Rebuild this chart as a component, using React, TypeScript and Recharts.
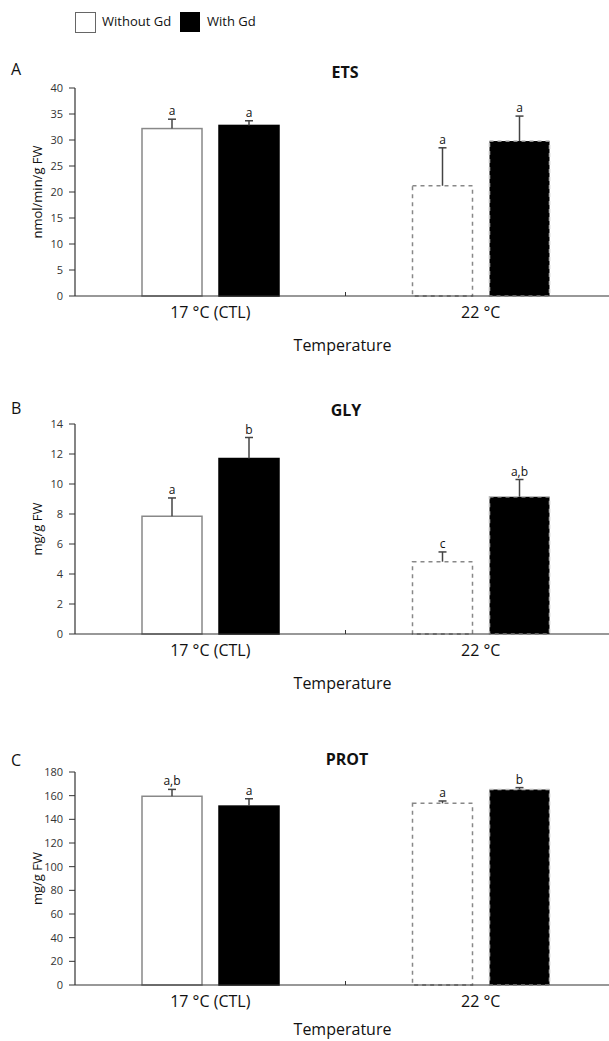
import React from "react";
import { BarChart, Bar, XAxis, YAxis, LabelList } from "recharts";

const categories = ["17 °C (CTL)", "22 °C"];

const etsWithout = [32.2, 21.2];
const etsWith = [32.8, 29.8];
const etsErrWithout = [1.8, 7.3];
const etsErrWith = [0.9, 4.8];
const etsLetWithout = ["a", "a"];
const etsLetWith = ["a", "a"];

const glyWithout = [7.85, 4.82];
const glyWith = [11.7, 9.15];
const glyErrWithout = [1.22, 0.65];
const glyErrWith = [1.4, 1.15];
const glyLetWithout = ["a", "c"];
const glyLetWith = ["b", "a,b"];

const protWithout = [159.5, 153.5];
const protWith = [151.2, 165.2];
const protErrWithout = [5.8, 2.0];
const protErrWith = [6.2, 1.6];
const protLetWithout = ["a,b", "a"];
const protLetWith = ["a", "b"];

const etsTicks = [0, 5, 10, 15, 20, 25, 30, 35, 40];
const glyTicks = [0, 2, 4, 6, 8, 10, 12, 14];
const protTicks = [0, 20, 40, 60, 80, 100, 120, 140, 160, 180];

const FONT = "'Open Sans', 'Noto Sans', sans-serif";
const AXIS = "#333";
const ERR = "#444";

function buildRows(wo, wi, ewo, ewi, lwo, lwi) {
  return categories.map((c, i) => ({
    cat: c,
    without: wo[i],
    withGd: wi[i],
    errWithout: ewo[i],
    errWith: ewi[i],
    letWithout: lwo[i],
    letWith: lwi[i],
  }));
}

const CatTick = (props: any) => {
  const { x, y, payload, index } = props;
  const half = payload && payload.offset ? payload.offset : 135.25;
  return (
    <g>
      <text x={x} y={y + 16} textAnchor="middle" dominantBaseline="central" fontSize={16} fill="#111" fontFamily={FONT}>
        {payload.value}
      </text>
      {index > 0 && <line x1={x - half} x2={x - half} y1={y} y2={y - 4} stroke={AXIS} strokeWidth={1} />}
    </g>
  );
};

// bar rectangle plus an upper-only error whisker, scaled from the bar's own pixel height
function barShape(valKey, errKey, dark) {
  return (p: any) => {
    const { x, y, width, height, payload, index } = p;
    const val = payload[valKey];
    const err = payload[errKey];
    const pxPerUnit = val ? height / val : 0;
    const top = y - err * pxPerUnit;
    const cx = x + width / 2;
    const dashed = index === 1;
    const stroke = dark ? (dashed ? "#bbb" : "#000") : "#888";
    return (
      <g>
        <rect x={x} y={y} width={width} height={height} fill={dark ? "#000" : "#fff"} stroke={stroke} strokeWidth={1.5} strokeDasharray={dashed ? "4 4" : undefined} />
        <line x1={cx} x2={cx} y1={y} y2={top} stroke={ERR} strokeWidth={1.5} />
        <line x1={cx - 4} x2={cx + 4} y1={top} y2={top} stroke={ERR} strokeWidth={1.5} />
      </g>
    );
  };
}

function letterContent(rows, key, errKey, valKey) {
  return (p: any) => {
    const i = p.index;
    const row = rows[i];
    if (!row) return null;
    const vb = p.viewBox || p;
    const pxPerUnit = vb.height / row[valKey];
    const top = vb.y - row[errKey] * pxPerUnit;
    return (
      <text x={vb.x + vb.width / 2} y={top - 4} textAnchor="middle" fontSize={12} fill="#111" fontFamily={FONT}>
        {row[key]}
      </text>
    );
  };
}

function Panel({ top, height, marginTop, axisHeight, rows, domain, ticks, yLabel, tempOffset }) {
  return (
    <div style={{ position: "absolute", left: 0, top, width: 616, height }}>
      <BarChart width={616} height={height} data={rows} margin={{ top: marginTop, right: 0, bottom: 0, left: 0 }} barSize={60} barGap={17}>
        <XAxis
          dataKey="cat"
          height={axisHeight}
          tick={<CatTick />}
          tickLine={false}
          tickSize={0}
          tickMargin={0}
          axisLine={{ stroke: AXIS, strokeWidth: 1.2 }}
          interval={0}
          label={{
            content: (p: any) => {
              const vb = p.viewBox;
              return (
                <text x={vb.x + vb.width / 2 - 3} y={vb.y + tempOffset} textAnchor="middle" dominantBaseline="central" fontSize={16} fill="#111" fontFamily={FONT}>
                  Temperature
                </text>
              );
            },
          }}
        />
        <YAxis
          width={75}
          domain={domain}
          ticks={ticks}
          interval={0}
          tickSize={6}
          tickMargin={6}
          tick={{ fontSize: 11, fill: "#333", fontFamily: FONT }}
          axisLine={{ stroke: AXIS, strokeWidth: 1.2 }}
          tickLine={{ stroke: AXIS }}
          label={{
            content: (p: any) => {
              const vb = p.viewBox;
              const cx = 37;
              const cy = vb.y + vb.height / 2;
              return (
                <text x={cx} y={cy} transform={`rotate(-90 ${cx} ${cy})`} textAnchor="middle" dominantBaseline="central" fontSize={13} fill="#111" fontFamily={FONT}>
                  {yLabel}
                </text>
              );
            },
          }}
        />
        <Bar dataKey="without" fill="#fff" stroke="#888" isAnimationActive={false} shape={barShape("without", "errWithout", false)}>
          <LabelList dataKey="letWithout" content={letterContent(rows, "letWithout", "errWithout", "without")} />
        </Bar>
        <Bar dataKey="withGd" fill="#000" isAnimationActive={false} shape={barShape("withGd", "errWith", true)}>
          <LabelList dataKey="letWith" content={letterContent(rows, "letWith", "errWith", "withGd")} />
        </Bar>
      </BarChart>
    </div>
  );
}

const txt = (style) => ({ position: "absolute" as const, fontFamily: FONT, color: "#111", lineHeight: 1, whiteSpace: "nowrap" as const, ...style });

export default function App() {
  const etsRows = buildRows(etsWithout, etsWith, etsErrWithout, etsErrWith, etsLetWithout, etsLetWith);
  const glyRows = buildRows(glyWithout, glyWith, glyErrWithout, glyErrWith, glyLetWithout, glyLetWith);
  const protRows = buildRows(protWithout, protWith, protErrWithout, protErrWith, protLetWithout, protLetWith);
  return (
    <div style={{ position: "absolute", left: 0, top: 0, width: 609, height: 1041, overflow: "hidden", background: "#fff" }}>
      {/* legend */}
      <div style={{ position: "absolute", left: 75, top: 12, width: 19, height: 19, border: "1px solid #666", background: "#fff" }} />
      <div style={txt({ left: 102, top: 15, fontSize: 13 })}>Without Gd</div>
      <div style={{ position: "absolute", left: 180, top: 12, width: 20, height: 20, background: "#000" }} />
      <div style={txt({ left: 207, top: 15, fontSize: 13 })}>With Gd</div>

      <div style={txt({ left: 11, top: 61, fontSize: 16 })}>A</div>
      <div style={txt({ left: 245, width: 200, textAlign: "center", top: 64, fontSize: 16, fontWeight: 700 })}>ETS</div>
      <Panel top={60} height={300} marginTop={28} axisHeight={64} rows={etsRows} domain={[0, 40]} ticks={etsTicks} yLabel="nmol/min/g FW" tempOffset={49} />

      <div style={txt({ left: 11, top: 400, fontSize: 16 })}>B</div>
      <div style={txt({ left: 246, width: 200, textAlign: "center", top: 402, fontSize: 16, fontWeight: 700 })}>GLY</div>
      <Panel top={400} height={300} marginTop={24} axisHeight={66} rows={glyRows} domain={[0, 14]} ticks={glyTicks} yLabel="mg/g FW" tempOffset={49} />

      <div style={txt({ left: 11, top: 752, fontSize: 16 })}>C</div>
      <div style={txt({ left: 247, width: 200, textAlign: "center", top: 751, fontSize: 16, fontWeight: 700 })}>PROT</div>
      <Panel top={750} height={291} marginTop={22} axisHeight={56} rows={protRows} domain={[0, 180]} ticks={protTicks} yLabel="mg/g FW" tempOffset={44} />
    </div>
  );
}
